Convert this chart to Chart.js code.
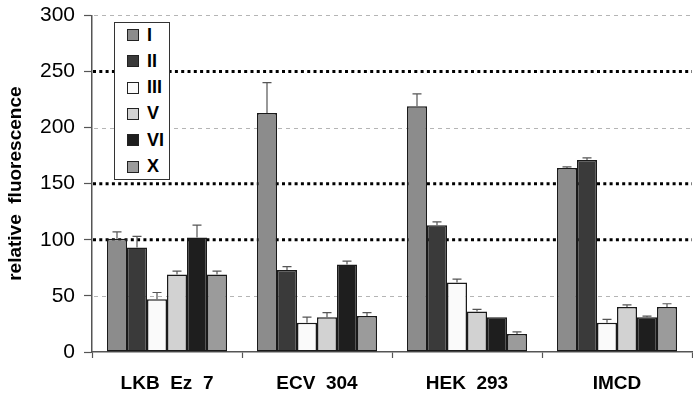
<!DOCTYPE html>
<html>
<head>
<meta charset="utf-8">
<script src="https://cdn.jsdelivr.net/npm/chart.js@4.4.0/dist/chart.umd.min.js"></script>
<style>
  html, body { margin: 0; padding: 0; background: #fff; }
  #wrap { position: relative; width: 693px; height: 397px; }
  #legend {
    position: absolute; left: 114px; top: 22px; width: 56px; height: 158px;
    border: 1px solid #333; background: #fff; box-sizing: border-box;
    font: bold 18px "Liberation Sans", Arial, sans-serif;
  }
  #legend .row { position: absolute; left: 12px; height: 18px; display: flex; align-items: center; }
  #legend .sw { width: 10px; height: 10px; border: 1px solid #222; margin-right: 8px; }
</style>
</head>
<body>
<div id="wrap">
  <canvas id="c" width="693" height="397"></canvas>
  <div id="legend"></div>
</div>
<script>
// cell lines on the x axis
const categories = ['LKB  Ez  7', 'ECV  304', 'HEK  293', 'IMCD'];
const seriesNames = ['I', 'II', 'III', 'V', 'VI', 'X'];
const seriesColors = ['#8c8c8c', '#3a3a3a', '#fafafa', '#d2d2d2', '#1e1e1e', '#9b9b9b'];

// mean values per series, one per cell line
const valsI   = [101, 213, 219, 164];
const valsII  = [93, 73, 113, 171];
const valsIII = [47, 26, 62, 26];
const valsV   = [69, 31, 36, 40];
const valsVI  = [102, 78, 31, 31];
const valsX   = [69, 32, 16, 40];

// upper error bars
const errI   = [6, 27, 11, 1];
const errII  = [10, 3, 3, 2];
const errIII = [6, 5, 3, 3];
const errV   = [3, 4, 2, 2];
const errVI  = [11, 3, 0, 1];
const errX   = [3, 3, 2, 3];

const yTicks = [0, 50, 100, 150, 200, 250, 300];
const boldGrid = [100, 150, 250];
const lightGrid = [50, 200, 300];

const allVals = [valsI, valsII, valsIII, valsV, valsVI, valsX];
const allErrs = [errI, errII, errIII, errV, errVI, errX];

const gridLines = {
  id: 'gridLines',
  beforeDatasetsDraw(chart) {
    const { ctx, chartArea, scales: { y } } = chart;
    ctx.save();
    for (const v of lightGrid) {
      const py = Math.round(y.getPixelForValue(v)) + 0.5;
      ctx.strokeStyle = '#b5b5b5'; ctx.lineWidth = 1; ctx.setLineDash([4, 4]);
      ctx.beginPath(); ctx.moveTo(chartArea.left + 2, py); ctx.lineTo(chartArea.right, py); ctx.stroke();
    }
    for (const v of boldGrid) {
      const py = y.getPixelForValue(v);
      ctx.strokeStyle = '#000'; ctx.lineWidth = 3; ctx.setLineDash([3, 3.3]);
      ctx.beginPath(); ctx.moveTo(chartArea.left + 1, py); ctx.lineTo(chartArea.right, py); ctx.stroke();
    }
    ctx.restore();
  }
};

const errorBars = {
  id: 'errorBars',
  afterDatasetsDraw(chart) {
    const { ctx, scales: { y } } = chart;
    ctx.save();
    ctx.strokeStyle = '#555'; ctx.lineWidth = 1.2;
    chart.data.datasets.forEach((ds, i) => {
      const meta = chart.getDatasetMeta(i);
      meta.data.forEach((bar, j) => {
        const e = allErrs[i][j];
        if (!e) return;
        const y0 = y.getPixelForValue(ds.data[j]);
        const y1 = y.getPixelForValue(ds.data[j] + e);
        ctx.beginPath();
        ctx.moveTo(bar.x, y0); ctx.lineTo(bar.x, y1);
        ctx.moveTo(bar.x - 4.5, y1); ctx.lineTo(bar.x + 4.5, y1);
        ctx.stroke();
      });
    });
    ctx.restore();
  }
};

new Chart(document.getElementById('c').getContext('2d'), {
  type: 'bar',
  data: {
    labels: categories,
    datasets: seriesNames.map((n, i) => ({
      label: n,
      data: allVals[i],
      backgroundColor: seriesColors[i],
      borderColor: '#1a1a1a',
      borderWidth: 1.5,
      borderSkipped: false,
      barPercentage: 1,
      categoryPercentage: 0.8
    }))
  },
  options: {
    responsive: false,
    animation: false,
    layout: { padding: { top: 13, right: 1, left: 0, bottom: 0 } },
    plugins: { legend: { display: false }, tooltip: { enabled: false } },
    scales: {
      x: {
        grid: { drawOnChartArea: false, offset: true, tickLength: 6, tickColor: '#555', tickWidth: 1.2 },
        border: { color: '#555', width: 1.5 },
        ticks: { color: '#000', padding: 16, font: { family: 'Liberation Sans, Arial', size: 19, weight: 'bold', lineHeight: 1 } },
        afterFit(scale) { scale.height = 45; }
      },
      y: {
        min: 0, max: 300,
        afterBuildTicks(scale) { scale.ticks = yTicks.map(v => ({ value: v })); },
        grid: { drawOnChartArea: false, tickLength: 8, tickColor: '#555', tickWidth: 1.2 },
        border: { color: '#555', width: 1.5 },
        ticks: { color: '#000', padding: 9, font: { family: 'Liberation Sans, Arial', size: 21, lineHeight: 0.6 } },
        title: {
          display: true, text: 'relative  fluorescence', color: '#000', padding: { top: 5, bottom: 0 },
          font: { family: 'Liberation Sans, Arial', size: 19, weight: 'bold', lineHeight: 1.1 }
        },
        afterFit(scale) { scale.width = 92; }
      }
    }
  },
  plugins: [gridLines, errorBars]
});

// legend box over the plot
const legend = document.getElementById('legend');
seriesNames.forEach((n, i) => {
  const row = document.createElement('div');
  row.className = 'row';
  row.style.top = (3 + i * 26.3) + 'px';
  row.innerHTML = '<span class="sw" style="background:' + seriesColors[i] + '"></span>' + n;
  legend.appendChild(row);
});
</script>
</body>
</html>
